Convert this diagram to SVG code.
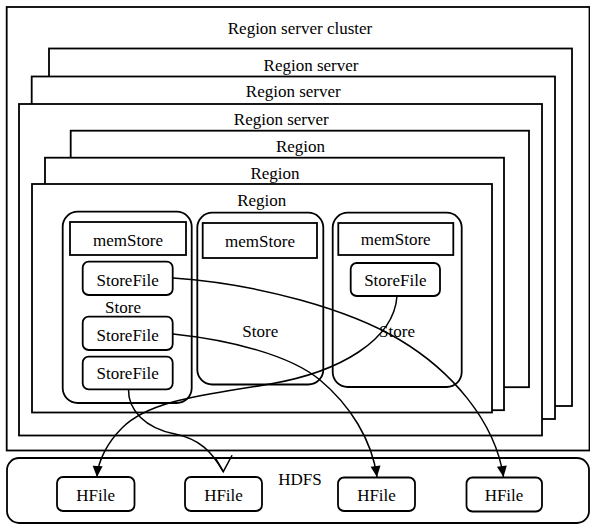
<svg xmlns="http://www.w3.org/2000/svg" width="590" height="525" viewBox="0 0 590 525">
<style>
.frame{fill:#fff;stroke:#000;stroke-width:1.8}
.box{fill:#fff;stroke:#000;stroke-width:1.8}
.t{font-family:"Liberation Serif","Times New Roman",serif;font-size:17px;fill:#000;text-anchor:middle}
.conn{fill:none;stroke:#000;stroke-width:1.5}
</style>
<defs>
<marker id="arr" viewBox="-12 -6 13 12" markerWidth="13" markerHeight="12" refX="0" refY="0" markerUnits="userSpaceOnUse" orient="auto">
<path d="M0,0 L-11,-5 L-11,5 Z" fill="#000"/>
</marker>
<marker id="vopen" viewBox="-18 -18 20 20" markerWidth="20" markerHeight="20" refX="0" refY="0" markerUnits="userSpaceOnUse" orient="auto">
<path d="M-16,0 L0,0 L-9.9,-15.8" fill="none" stroke="#000" stroke-width="1.5"/>
</marker>
</defs>
<rect width="590" height="525" fill="#fff"/>
<g id="cluster"><rect class="frame" x="6.7" y="7" width="582.8" height="443.5"/><text class="t" x="300" y="33.5">Region server cluster</text></g>
<g id="rs1"><rect class="frame" x="49" y="48.5" width="523" height="357.5"/><text class="t" x="311" y="70.5">Region server</text></g>
<g id="rs2"><rect class="frame" x="31.7" y="76.5" width="523.3" height="342.5"/><text class="t" x="293.3" y="97">Region server</text></g>
<g id="rs3"><rect class="frame" x="19" y="104" width="523" height="331.5"/><text class="t" x="281.3" y="124.5">Region server</text></g>
<g id="region1"><rect class="frame" x="70.7" y="130.7" width="458.3" height="256.5"/><text class="t" x="300.5" y="152">Region</text></g>
<g id="region2"><rect class="frame" x="45" y="157.7" width="459" height="252.5"/><text class="t" x="275" y="179">Region</text></g>
<g id="region3"><rect class="frame" x="32" y="184" width="460" height="228.5"/><text class="t" x="261.7" y="206">Region</text></g>
<g id="store1"><rect class="box" x="62.7" y="211.7" width="129" height="191.3" rx="15"/><text class="t" x="123" y="313">Store</text></g>
<g id="store2"><rect class="box" x="197.3" y="212.7" width="126" height="171.8" rx="15"/><text class="t" x="260.3" y="337">Store</text></g>
<g id="store3"><rect class="box" x="332.7" y="212.7" width="129" height="174.3" rx="15"/><text class="t" x="397" y="337">Store</text></g>
<g id="memstore1"><rect class="box" x="70" y="222" width="116" height="33"/><text class="t" x="128" y="245.5">memStore</text></g>
<g id="memstore2"><rect class="box" x="202.7" y="223" width="114.3" height="35"/><text class="t" x="260" y="247">memStore</text></g>
<g id="memstore3"><rect class="box" x="338.3" y="223" width="115" height="32"/><text class="t" x="395.7" y="245">memStore</text></g>
<g id="storefile1"><rect class="box" x="82.7" y="261.7" width="90" height="33.3" rx="6"/><text class="t" x="127.7" y="285.5">StoreFile</text></g>
<g id="storefile2"><rect class="box" x="82.7" y="316.7" width="90" height="33.3" rx="6"/><text class="t" x="127.7" y="341">StoreFile</text></g>
<g id="storefile3"><rect class="box" x="82.7" y="356.7" width="90" height="32.6" rx="6"/><text class="t" x="127.7" y="379">StoreFile</text></g>
<g id="storefile4"><rect class="box" x="350.7" y="263" width="89.3" height="33" rx="6"/><text class="t" x="395.3" y="286">StoreFile</text></g>
<g id="hdfs"><rect class="box" x="7" y="458" width="582" height="65" rx="12"/><text class="t" x="300" y="485">HDFS</text></g>
<g id="hfile1"><rect class="box" x="57" y="477" width="77.5" height="34" rx="6"/><text class="t" x="95.7" y="500.5">HFile</text></g>
<g id="hfile2"><rect class="box" x="185" y="477" width="77" height="34" rx="6"/><text class="t" x="223.5" y="500.5">HFile</text></g>
<g id="hfile3"><rect class="box" x="338" y="477.5" width="77" height="33.5" rx="6"/><text class="t" x="376.5" y="500.5">HFile</text></g>
<g id="hfile4"><rect class="box" x="466.5" y="477.5" width="75.5" height="34" rx="6"/><text class="t" x="504" y="500.5">HFile</text></g>
<g id="connectors">
<path class="conn" d="M173,278 C260,284 350,310 400,340 C450,370 495,420 503.5,477" marker-end="url(#arr)"/>
<path class="conn" d="M173,334 C230,340 290,355 320,380 C350,405 372,440 377,477" marker-end="url(#arr)"/>
<path class="conn" d="M397,296 C394,340 340,372 270,384 C205,395 150,400 122,428 C108,442 98,460 97,477" marker-end="url(#arr)"/>
<path class="conn" d="M128.5,389.3 C128,410 145,428 175,434 C200,439 212,452 223.3,471.7" marker-end="url(#vopen)"/>
</g>
</svg>
